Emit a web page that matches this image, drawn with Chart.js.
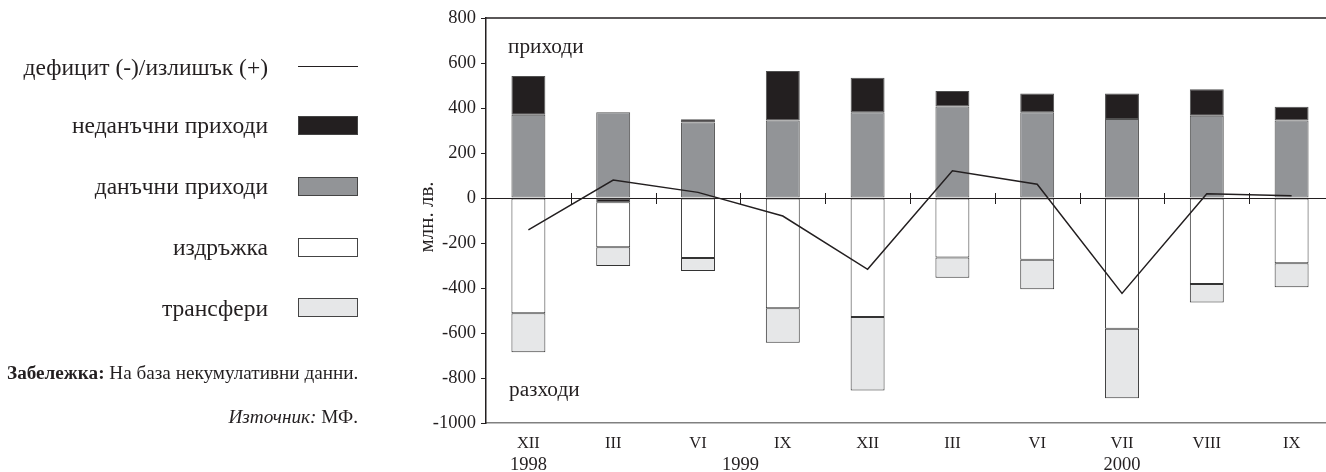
<!DOCTYPE html>
<html>
<head>
<meta charset="utf-8">
<script src="https://cdn.jsdelivr.net/npm/chart.js@4.4.1/dist/chart.umd.min.js"></script>
<style>
  html, body { margin: 0; padding: 0; overflow: hidden; background: #fff; width: 1326px; height: 472px; }
  body { position: relative; font-family: "Liberation Serif", "Times New Roman", serif; color: #231f20; }
  #c { position: absolute; left: 0; top: 0; }
  .lg { position: absolute; right: 1058px; font-size: 23.5px; white-space: nowrap; line-height: 24px; }
  .sw { position: absolute; left: 298px; width: 58px; height: 17px; border: 1px solid #444; box-sizing: content-box; }
  .ln { position: absolute; left: 298px; width: 60px; height: 0; border-top: 1.5px solid #231f20; }
  .note { position: absolute; font-size: 19.2px; white-space: nowrap; line-height: 20px; }
</style>
</head>
<body>
<canvas id="c" width="1340" height="472"></canvas>

<div class="lg" style="top:55px">дефицит (-)/излишък (+)</div>
<div class="ln" style="top:66px"></div>
<div class="lg" style="top:113px">неданъчни приходи</div>
<div class="sw" style="top:116px; background:#231f20"></div>
<div class="lg" style="top:174px">данъчни приходи</div>
<div class="sw" style="top:177px; background:#929497"></div>
<div class="lg" style="top:235px">издръжка</div>
<div class="sw" style="top:238px; background:#ffffff"></div>
<div class="lg" style="top:296px">трансфери</div>
<div class="sw" style="top:298px; background:#e6e7e8"></div>

<div class="note" style="left:7px; top:363px"><b>Забележка:</b> На база некумулативни данни.</div>
<div class="note" style="right:968px; top:407px"><i>Източник:</i> МФ.</div>

<script>
// ---- data ----
const categories = ['XII', 'III', 'VI', 'IX', 'XII', 'III', 'VI', 'VII', 'VIII', 'IX'];
const taxRevenue    = [370, 381, 336, 344, 381, 407, 381, 351, 366, 344];
const nonTaxRevenue = [172, -19, 14, 220, 154, 69, 84, 113, 117, 62];
const upkeep        = [-512, -200, -267, -490, -529, -264, -274, -581, -382, -290];
const transfers     = [-174, -83, -57, -153, -326, -90, -132, -309, -82, -107];
const balance       = [-142, 80, 25, -80, -317, 121, 61, -424, 19, 10];
const yearLabels    = ['1998', '1999', '2000'];
const yearPositions = [0, 2.5, 7];
const yTicks        = { min: -1000, max: 800, step: 200 };

const FONT = '"Liberation Serif", "Times New Roman", serif';
const INK = '#231f20';

const decor = {
  id: 'decor',
  beforeDatasetsDraw(chart) {
    const { ctx, chartArea: a, scales: { x, y } } = chart;
    const y0 = y.getPixelForValue(0);
    ctx.save();
    ctx.strokeStyle = INK;
    ctx.lineWidth = 1;
    ctx.beginPath();
    ctx.moveTo(a.left, y0 + 0.5); ctx.lineTo(a.right, y0 + 0.5);
    const step = x.getPixelForValue(1) - x.getPixelForValue(0);
    for (let i = 1; i < categories.length; i++) {
      const px = Math.round(x.getPixelForValue(i) - step / 2) + 0.5;
      ctx.moveTo(px, y0 - 5); ctx.lineTo(px, y0 + 6);
    }
    ctx.stroke();
    ctx.lineWidth = 1.5;
    ctx.beginPath();
    ctx.moveTo(a.left, a.top); ctx.lineTo(a.right, a.top);
    ctx.stroke();
    ctx.restore();
  },
  afterDraw(chart) {
    const { ctx, chartArea: a, scales: { x, y } } = chart;
    ctx.save();
    ctx.fillStyle = INK;
    ctx.font = '21.3px ' + FONT;
    ctx.textAlign = 'left';
    ctx.textBaseline = 'middle';
    ctx.fillText('приходи', a.left + 22, y.getPixelForValue(668));
    ctx.fillText('разходи', a.left + 23, y.getPixelForValue(-853));
    const step = x.getPixelForValue(1) - x.getPixelForValue(0);
    ctx.font = '18.5px ' + FONT;
    ctx.textAlign = 'center';
    yearLabels.forEach((t, i) => {
      ctx.fillText(t, x.getPixelForValue(0) + step * yearPositions[i], 465);
    });
    ctx.font = '21px ' + FONT;
    ctx.translate(427, 217);
    ctx.rotate(-Math.PI / 2);
    ctx.fillText('млн. лв.', 0, 0);
    ctx.restore();
  }
};

const barCommon = { borderWidth: 1, borderSkipped: false, order: 1, stack: 'bars' };

new Chart(document.getElementById('c'), {
  type: 'bar',
  data: {
    labels: categories,
    datasets: [
      { type: 'line', label: 'дефицит (-)/излишък (+)', data: balance, borderColor: INK, borderWidth: 1.5,
        pointRadius: 0, tension: 0, fill: false, order: 0, stack: 'line' },
      Object.assign({ label: 'данъчни приходи', data: taxRevenue, backgroundColor: '#929497', borderColor: '#505050' }, barCommon),
      Object.assign({ label: 'неданъчни приходи', data: nonTaxRevenue, backgroundColor: '#231f20', borderColor: '#505050' }, barCommon),
      Object.assign({ label: 'издръжка', data: upkeep, backgroundColor: '#ffffff', borderColor: '#333333' }, barCommon),
      Object.assign({ label: 'трансфери', data: transfers, backgroundColor: '#e6e7e8', borderColor: '#333333' }, barCommon)
    ]
  },
  options: {
    responsive: false,
    animation: false,
    devicePixelRatio: 1,
    datasets: { bar: { categoryPercentage: 1, barPercentage: 0.4 } },
    layout: { padding: { left: 400, right: 6, top: 18, bottom: 0 } },
    plugins: { legend: { display: false }, tooltip: { enabled: false } },
    scales: {
      x: {
        stacked: true,
        grid: { display: false },
        border: { display: true, color: '#808080', width: 1.5 },
        ticks: { color: INK, font: { family: FONT, size: 16.5 }, padding: 3, maxRotation: 0 },
        afterFit(s) { s.height = 49; }
      },
      y: {
        stacked: true,
        min: yTicks.min, max: yTicks.max,
        grid: { drawOnChartArea: false, drawTicks: true, tickLength: 5, color: INK, lineWidth: 1 },
        border: { display: true, color: INK, width: 1.5 },
        ticks: { stepSize: yTicks.step, color: INK, font: { family: FONT, size: 18.5 }, padding: 5,
                 callback: (v) => String(v) },
        afterFit(s) { s.width = 86; }
      }
    }
  },
  plugins: [decor]
});
</script>
</body>
</html>
